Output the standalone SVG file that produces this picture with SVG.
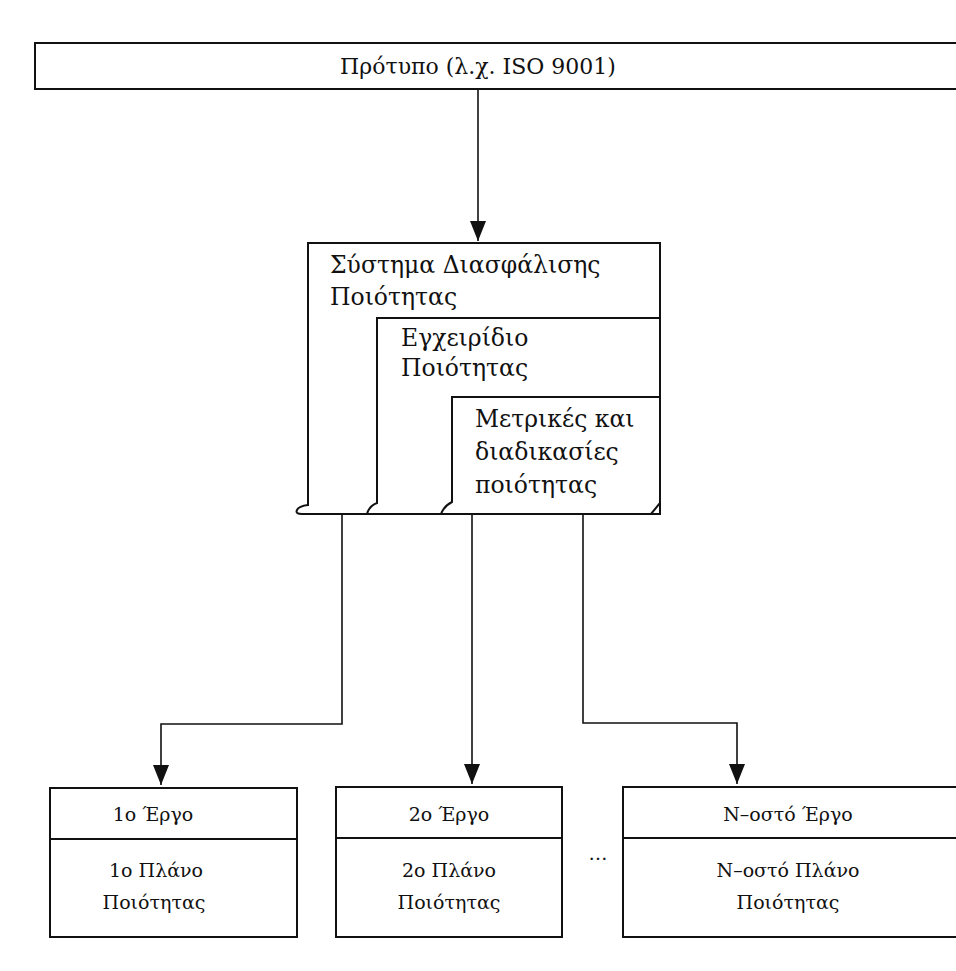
<svg xmlns="http://www.w3.org/2000/svg" width="956" height="971" viewBox="0 0 956 971">
<defs>
<style>
.box{fill:#fff;stroke:#111;stroke-width:2}
.ln{fill:none;stroke:#111;stroke-width:1.6}
.t{font-family:"DejaVu Serif","Liberation Serif",serif;fill:#111;font-size:19px}
.tt{font-family:"DejaVu Serif","Liberation Serif",serif;fill:#111;font-size:22px}
.tm{font-family:"DejaVu Serif","Liberation Serif",serif;fill:#111;font-size:23.5px}
.c{text-anchor:middle}
</style>
<marker id="ah" viewBox="0 0 20 16" refX="20" refY="8" markerWidth="20" markerHeight="16" markerUnits="userSpaceOnUse" orient="auto">
<path d="M0,0 L20,8 L0,16 Z" fill="#111"/>
</marker>
</defs>
<rect width="956" height="971" fill="#fff"/>

<g id="standard">
<rect class="box" x="35" y="43" width="930" height="46"/>
<text class="tt c" x="478" y="74">Πρότυπο (λ.χ. ISO 9001)</text>
</g>

<g id="qa-system">
<path class="box" d="M308,243 H660 V503 L651,514 H302 Q295,514 297,510 Q299,506 308,505 Z"/>
<text class="tm" x="330" y="273">Σύστημα Διασφάλισης</text>
<text class="tm" x="330" y="305">Ποιότητας</text>
</g>
<g id="quality-manual">
<path class="box" d="M377,318 H660 V514 H367 Q369,506 377,503 Z"/>
<text class="tm" x="401" y="346">Εγχειρίδιο</text>
<text class="tm" x="401" y="376">Ποιότητας</text>
</g>
<g id="metrics">
<path class="box" d="M452,397 H660 V503 L651,514 H441 Q444,506 452,502 Z"/>
<text class="tm" x="475" y="427">Μετρικές και</text>
<text class="tm" x="475" y="460">διαδικασίες</text>
<text class="tm" x="475" y="493">ποιότητας</text>
</g>

<g id="project1">
<rect class="box" x="50" y="788" width="247" height="149"/>
<line class="box" x1="50" y1="839" x2="297" y2="839"/>
<text class="t c" x="153" y="821">1ο Έργο</text>
<text class="t c" x="156" y="877">1ο Πλάνο</text>
<text class="t c" x="154" y="909">Ποιότητας</text>
</g>
<g id="project2">
<rect class="box" x="336" y="787" width="226" height="150"/>
<line class="box" x1="336" y1="838" x2="562" y2="838"/>
<text class="t c" x="449" y="821">2ο Έργο</text>
<text class="t c" x="449" y="877">2ο Πλάνο</text>
<text class="t c" x="449" y="909">Ποιότητας</text>
</g>
<g id="dots">
<text class="t c" x="598" y="860">…</text>
</g>
<g id="projectN">
<rect class="box" x="623" y="787" width="340" height="150"/>
<line class="box" x1="623" y1="838" x2="963" y2="838"/>
<text class="t c" x="788" y="821">Ν–οστό Έργο</text>
<text class="t c" x="788" y="877">Ν–οστό Πλάνο</text>
<text class="t c" x="788" y="909">Ποιότητας</text>
</g>

<g id="connectors">
<path class="ln" d="M478,89 V241" marker-end="url(#ah)"/>
<path class="ln" d="M342,515 V724 H161 V785" marker-end="url(#ah)"/>
<path class="ln" d="M472,515 V784" marker-end="url(#ah)"/>
<path class="ln" d="M583,515 V723 H737 V784" marker-end="url(#ah)"/>
</g>
</svg>
